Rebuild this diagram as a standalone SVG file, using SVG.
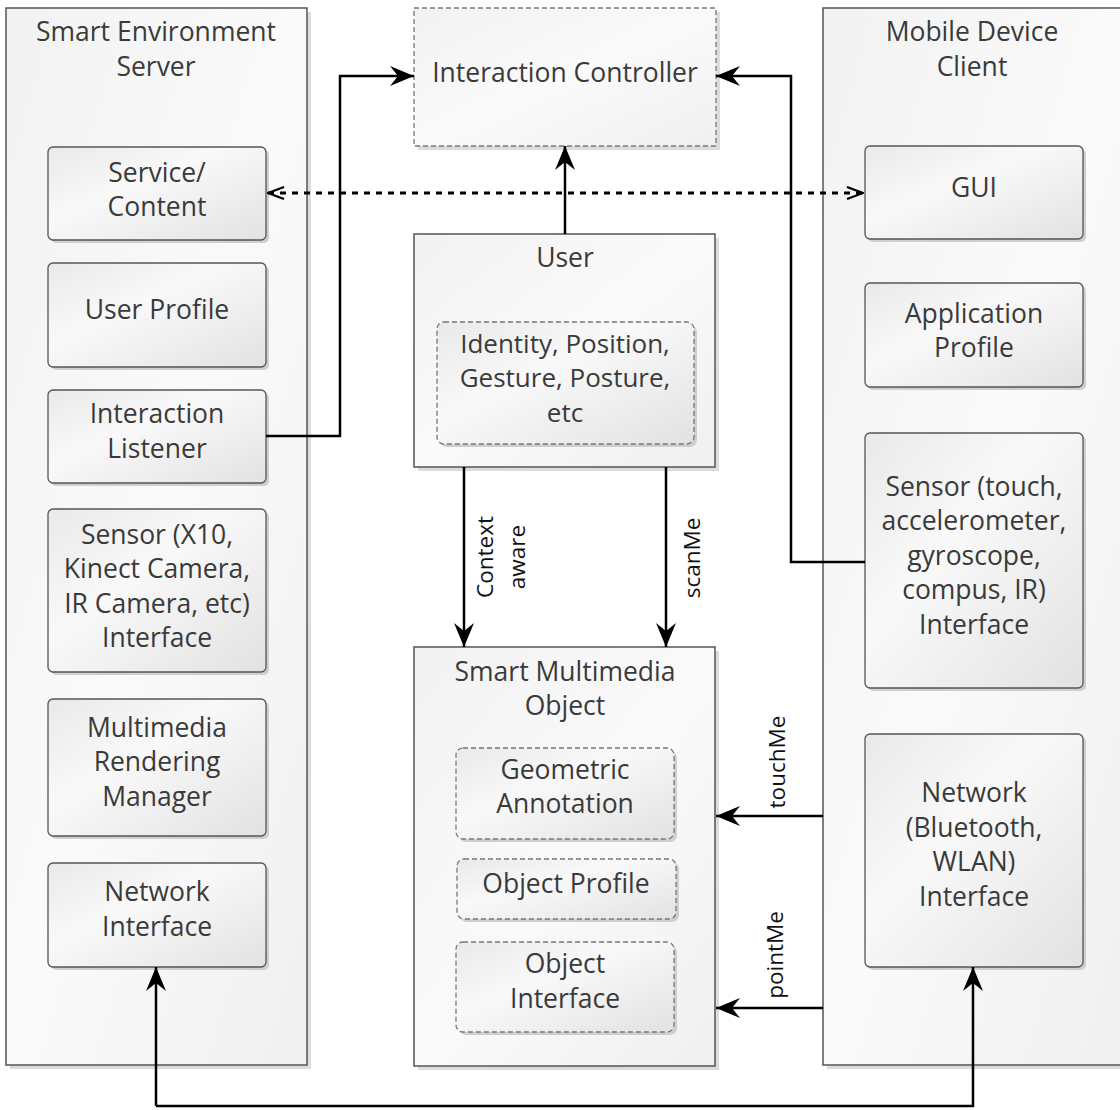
<svg xmlns="http://www.w3.org/2000/svg" width="1120" height="1110" viewBox="0 0 1120 1110">
<style>
.cont{fill:url(#gc);stroke:#555;stroke-width:1.5}
.box{fill:url(#gb);stroke:#555;stroke-width:1.3}
.dash{fill:url(#gb);stroke:#777;stroke-width:1.3;stroke-dasharray:5 3}
.csh{fill:#dcdcdc}
.bsh{fill:#cfcfcf}
text{font-family:"Open Sans","Noto Sans","DejaVu Sans",sans-serif;font-size:26.5px;fill:#3a3a3a;text-anchor:middle}
.sm{font-size:26px}
.lbl{font-size:22.5px;fill:#111}
.wire{fill:none;stroke:#000;stroke-width:2.5}
</style>
<defs>
<linearGradient id="gc" x1="0" y1="0" x2="1" y2="1">
<stop offset="0" stop-color="#f2f2f2"/><stop offset="0.5" stop-color="#fafafa"/><stop offset="1" stop-color="#f0f0f0"/>
</linearGradient>
<linearGradient id="gb" x1="0" y1="0" x2="1" y2="1">
<stop offset="0" stop-color="#e9e9e9"/><stop offset="0.4" stop-color="#f9f9f9"/><stop offset="1" stop-color="#e2e2e2"/>
</linearGradient>
<marker id="arr" viewBox="0 0 24 20" refX="24" refY="10" markerWidth="24" markerHeight="20" orient="auto" markerUnits="userSpaceOnUse">
<path d="M0,0 L24,10 L0,20 L8,10 z" fill="#000"/>
</marker>
<marker id="open" viewBox="0 0 18 14" refX="17" refY="7" markerWidth="18" markerHeight="14" orient="auto-start-reverse" markerUnits="userSpaceOnUse">
<path d="M1,1 L17,7 L1,13" fill="none" stroke="#000" stroke-width="2.2" stroke-dasharray="none"/>
</marker>
</defs>

<g id="server">
<rect class="csh" x="10" y="12" width="301" height="1057"/>
<rect class="cont" x="6" y="8" width="301" height="1057"/>
<text x="156" y="41">Smart Environment</text>
<text x="156" y="76">Server</text>
</g>
<g id="service-content">
<rect class="bsh" x="51" y="150" width="218" height="93" rx="5"/>
<rect class="box" x="48" y="147" width="218" height="93" rx="5"/>
<text x="157" y="182">Service/</text>
<text x="157" y="216">Content</text>
</g>
<g id="user-profile">
<rect class="bsh" x="51" y="266" width="218" height="104" rx="5"/>
<rect class="box" x="48" y="263" width="218" height="104" rx="5"/>
<text x="157" y="319">User Profile</text>
</g>
<g id="interaction-listener">
<rect class="bsh" x="51" y="393" width="218" height="93" rx="5"/>
<rect class="box" x="48" y="390" width="218" height="93" rx="5"/>
<text x="157" y="423">Interaction</text>
<text x="157" y="458">Listener</text>
</g>
<g id="sensor-env">
<rect class="bsh" x="51" y="512" width="218" height="163" rx="5"/>
<rect class="box" x="48" y="509" width="218" height="163" rx="5"/>
<text x="157" y="544">Sensor (X10,</text>
<text x="157" y="578">Kinect Camera,</text>
<text x="157" y="613">IR Camera, etc)</text>
<text x="157" y="647">Interface</text>
</g>
<g id="rendering-manager">
<rect class="bsh" x="51" y="702" width="218" height="137" rx="5"/>
<rect class="box" x="48" y="699" width="218" height="137" rx="5"/>
<text x="157" y="737">Multimedia</text>
<text x="157" y="771">Rendering</text>
<text x="157" y="806">Manager</text>
</g>
<g id="network-env">
<rect class="bsh" x="51" y="866" width="218" height="104" rx="5"/>
<rect class="box" x="48" y="863" width="218" height="104" rx="5"/>
<text x="157" y="901">Network</text>
<text x="157" y="936">Interface</text>
</g>

<g id="interaction-controller">
<rect class="csh" x="418" y="12" width="302" height="138"/>
<rect class="dash" x="414" y="8" width="302" height="138" style="fill:url(#gc)"/>
<text x="565" y="82">Interaction Controller</text>
</g>

<g id="user">
<rect class="csh" x="418" y="238" width="301" height="233"/>
<rect class="cont" x="414" y="234" width="301" height="233"/>
<text x="565" y="267">User</text>
</g>
<g id="user-attributes">
<rect class="bsh" x="440" y="325" width="257" height="122" rx="7"/>
<rect class="dash" x="437" y="322" width="257" height="122" rx="7"/>
<text class="sm" x="565" y="353">Identity, Position,</text>
<text class="sm" x="565" y="387">Gesture, Posture,</text>
<text class="sm" x="565" y="422">etc</text>
</g>

<g id="smart-object">
<rect class="csh" x="418" y="651" width="301" height="419"/>
<rect class="cont" x="414" y="647" width="301" height="419"/>
<text x="565" y="681">Smart Multimedia</text>
<text x="565" y="715">Object</text>
</g>
<g id="geometric-annotation">
<rect class="bsh" x="459" y="751" width="218" height="91" rx="7"/>
<rect class="dash" x="456" y="748" width="218" height="91" rx="7"/>
<text x="565" y="779">Geometric</text>
<text x="565" y="813">Annotation</text>
</g>
<g id="object-profile">
<rect class="bsh" x="460" y="862" width="219" height="60" rx="7"/>
<rect class="dash" x="457" y="859" width="219" height="60" rx="7"/>
<text x="566" y="893">Object Profile</text>
</g>
<g id="object-interface">
<rect class="bsh" x="459" y="945" width="218" height="90" rx="7"/>
<rect class="dash" x="456" y="942" width="218" height="90" rx="7"/>
<text x="565" y="973">Object</text>
<text x="565" y="1008">Interface</text>
</g>

<g id="mobile">
<rect class="csh" x="827" y="12" width="300" height="1057"/>
<rect class="cont" x="823" y="8" width="300" height="1057"/>
<text x="972" y="41">Mobile Device</text>
<text x="972" y="76">Client</text>
</g>
<g id="gui">
<rect class="bsh" x="868" y="149" width="218" height="93" rx="5"/>
<rect class="box" x="865" y="146" width="218" height="93" rx="5"/>
<text x="974" y="197">GUI</text>
</g>
<g id="application-profile">
<rect class="bsh" x="868" y="286" width="218" height="104" rx="5"/>
<rect class="box" x="865" y="283" width="218" height="104" rx="5"/>
<text x="974" y="323">Application</text>
<text x="974" y="357">Profile</text>
</g>
<g id="sensor-mobile">
<rect class="bsh" x="868" y="436" width="218" height="255" rx="5"/>
<rect class="box" x="865" y="433" width="218" height="255" rx="5"/>
<text x="974" y="496">Sensor (touch,</text>
<text x="974" y="530">accelerometer,</text>
<text x="974" y="565">gyroscope,</text>
<text x="974" y="599">compus, IR)</text>
<text x="974" y="634">Interface</text>
</g>
<g id="network-mobile">
<rect class="bsh" x="868" y="737" width="218" height="233" rx="5"/>
<rect class="box" x="865" y="734" width="218" height="233" rx="5"/>
<text x="974" y="802">Network</text>
<text x="974" y="837">(Bluetooth,</text>
<text x="974" y="871">WLAN)</text>
<text x="974" y="906">Interface</text>
</g>

<g id="connectors">
<polyline class="wire" points="266,436 340,436 340,76 414,76" marker-end="url(#arr)"/>
<polyline class="wire" points="865,562 791,562 791,76 716,76" marker-end="url(#arr)"/>
<line x1="268" y1="193" x2="863" y2="193" stroke="#000" stroke-width="3" stroke-dasharray="6 6" marker-start="url(#open)" marker-end="url(#open)"/>
<line class="wire" x1="565" y1="234" x2="565" y2="146" marker-end="url(#arr)"/>
<line class="wire" x1="464" y1="467" x2="464" y2="647" marker-end="url(#arr)"/>
<line class="wire" x1="666" y1="467" x2="666" y2="647" marker-end="url(#arr)"/>
<line class="wire" x1="823" y1="816" x2="716" y2="816" marker-end="url(#arr)"/>
<line class="wire" x1="823" y1="1008" x2="716" y2="1008" marker-end="url(#arr)"/>
<polyline class="wire" points="156,1106 156,967" marker-end="url(#arr)"/>
<polyline class="wire" points="156,1106 973,1106 973,967" marker-end="url(#arr)"/>
<text class="lbl" transform="translate(493,557) rotate(-90)">Context</text>
<text class="lbl" transform="translate(525,557) rotate(-90)">aware</text>
<text class="lbl" transform="translate(700,558) rotate(-90)">scanMe</text>
<text class="lbl" transform="translate(785,762) rotate(-90)">touchMe</text>
<text class="lbl" transform="translate(783,955) rotate(-90)">pointMe</text>
</g>
</svg>
